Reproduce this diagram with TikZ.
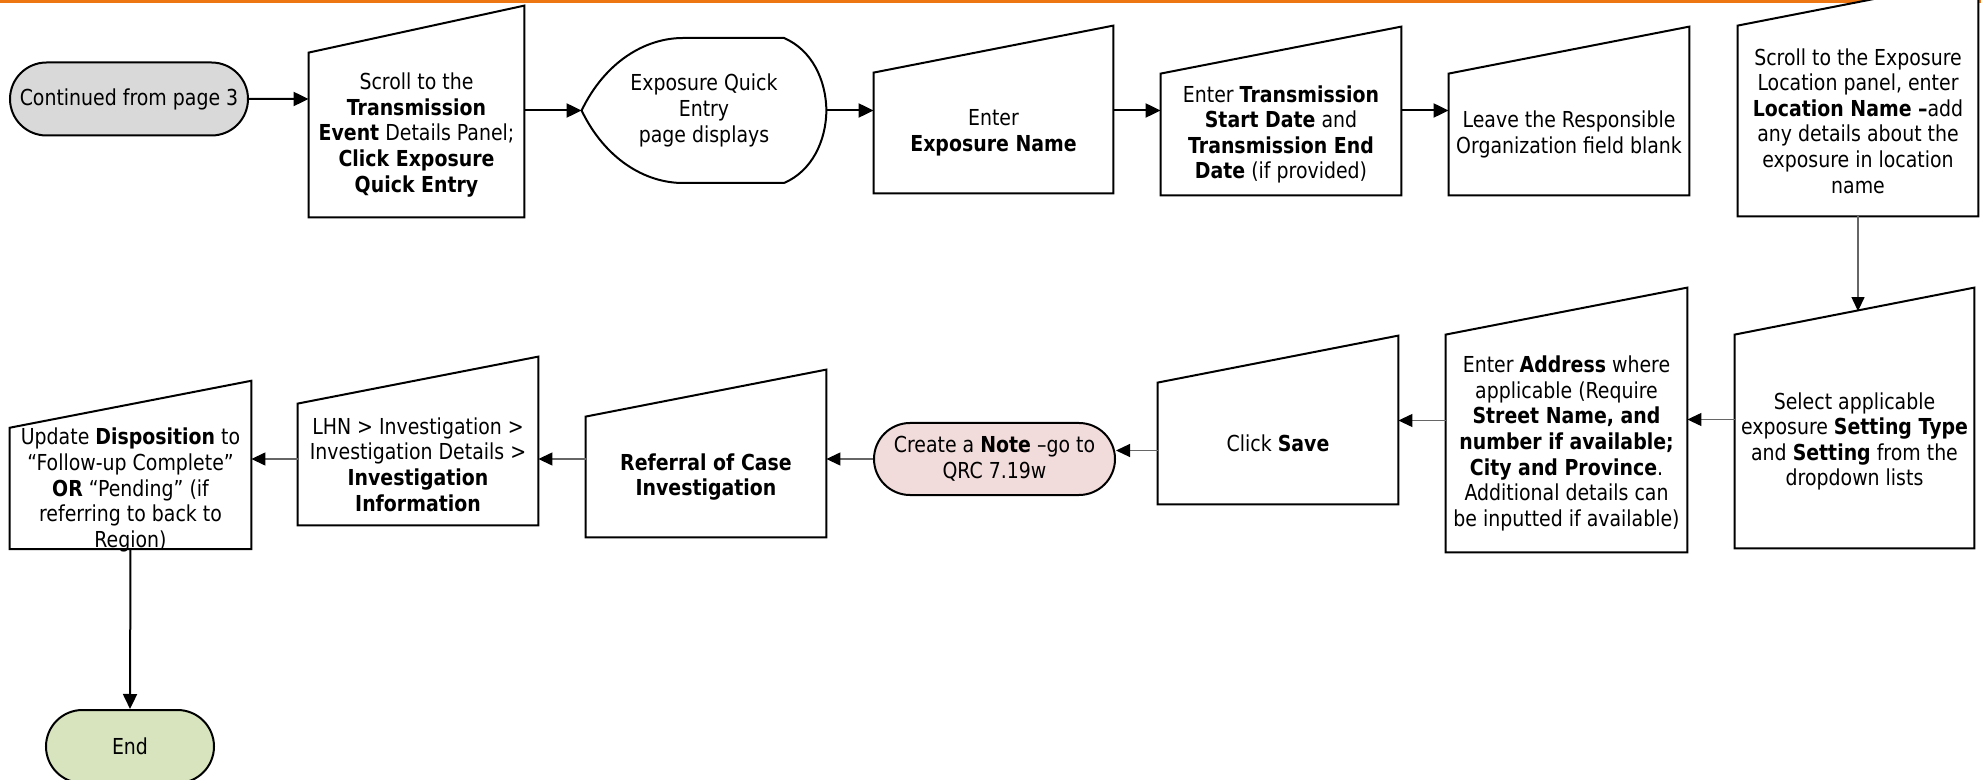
\documentclass[tikz,border=0pt]{standalone}
\usepackage{fontspec}
\setmainfont{DejaVu Sans}[FakeStretch=0.86]
\usepackage{tikz}
\usetikzlibrary{shapes.misc,% rounded rectangle for start/end
arrows.meta,%               filled triangle tips
backgrounds}
\definecolor{headorange}{RGB}{238,118,18}
\definecolor{startgray}{RGB}{217,217,217}
\definecolor{notepink}{RGB}{242,220,219}
\definecolor{endgreen}{RGB}{215,228,189}
\tikzset{every node/.style={font=\fontsize{11}{12.8}\selectfont},
  stepbox/.style={inner sep=0pt, align=center},
  terminal/.style={rounded rectangle, draw, line width=1pt, inner sep=0pt, align=center},
  outline/.style={draw, line width=1pt, fill=white},
  flow/.style={line width=1pt, -{Triangle[length=7.5pt,width=7pt]}},
  thinflow/.style={line width=0.6pt, draw=black!60, -{Triangle[length=7pt,width=6.5pt,color=black]}}}

\begin{document}
\begin{tikzpicture}[x=0.5pt,y=-0.5pt]
  \useasboundingbox (0,0) rectangle (1981,780);
  % top row
  \node[terminal, fill=startgray, minimum width=119pt, minimum height=36.5pt] (start) at (129,99) {Continued from page 3};
  \node[stepbox, minimum width=107.5pt, minimum height=82pt] (scrollev) at (416.5,135)
     {Scroll to the\\ \textbf{Transmission}\\ \textbf{Event} Details Panel;\\ \textbf{Click Exposure}\\ \textbf{Quick Entry}};
  \node[stepbox, minimum width=122pt, minimum height=72.5pt] (qe) at (704,110.5)
     {Exposure Quick\\ Entry\\ page displays};
  \node[stepbox, minimum width=119.5pt, minimum height=60pt] (expname) at (993.5,133)
     {Enter\\ \textbf{Exposure Name}};
  \node[stepbox, minimum width=120pt, minimum height=60.5pt] (dates) at (1281,134.5)
     {Enter \textbf{Transmission}\\ \textbf{Start Date} and\\ \textbf{Transmission End}\\ \textbf{Date} (if provided)};
  \node[stepbox, minimum width=120pt, minimum height=60.5pt] (resporg) at (1569,134.5)
     {Leave the Responsible\\ Organization field blank};
  \node[stepbox, minimum width=120pt, minimum height=95pt] (locname) at (1858,121)
     {Scroll to the Exposure\\ Location panel, enter\\ \textbf{Location Name –}add\\ any details about the\\ exposure in location\\ name};
  % bottom row
  \node[stepbox, minimum width=119.5pt, minimum height=106.5pt] (setting) at (1854.5,441.5)
     {Select applicable\\ exposure \textbf{Setting Type}\\ and \textbf{Setting} from the\\ dropdown lists};
  \node[stepbox, minimum width=120.5pt, minimum height=108.5pt] (address) at (1566.5,443.5)
     {Enter \textbf{Address} where\\ applicable (Require\\ \textbf{Street Name, and}\\ \textbf{number if available;}\\ \textbf{City and Province}.\\ Additional details can\\ be inputted if available)};
  \node[stepbox, minimum width=120pt, minimum height=60.5pt] (save) at (1278,443.5) {Click \textbf{Save}};
  \node[terminal, fill=notepink, minimum width=120.5pt, minimum height=36pt] (note) at (994.5,459)
     {Create a \textbf{Note} –go to\\ QRC 7.19w};
  \node[stepbox, minimum width=120pt, minimum height=60pt] (referral) at (706,477)
     {\textbf{Referral of Case}\\ \textbf{Investigation}};
  \node[stepbox, minimum width=120pt, minimum height=60.5pt] (lhn) at (418,464.5)
     {LHN > Investigation >\\ Investigation Details >\\ \textbf{Investigation}\\ \textbf{Information}};
  \node[stepbox, minimum width=120.5pt, minimum height=60.5pt] (update) at (130.5,490)
     {Update \textbf{Disposition} to\\ “Follow-up Complete”\\ \textbf{OR} “Pending” (if\\ referring to back to\\ Region)};
  \node[terminal, fill=endgreen, minimum width=84pt, minimum height=36.5pt] (end) at (130,746.5) {End};

  % outlines behind the text
  \begin{scope}[on background layer]
    \draw[headorange, line width=1.5pt] (0,1.5) -- (1981,1.5);
    \draw[outline] (qe.west) .. controls (605,62) and (645,38) .. (683,38) -- (784,38)
       .. controls (812,50) and (826,80) .. (qe.east) .. controls (826,141) and (812,171) .. (784,183)
       -- (683,183) .. controls (645,183) and (605,159) .. (qe.west) -- cycle;
    \foreach \n in {scrollev,expname,dates,resporg,locname,setting,address,save,referral,lhn}
      \draw[outline] (\n.south west) -- (\n.north west) -- ([yshift=23.5pt]\n.north east)
         -- (\n.south east) -- cycle;
    \draw[outline] ([yshift=1.5pt]update.south west) -- (update.north west)
       -- ([yshift=23.5pt]update.north east) -- ([yshift=1.5pt]update.south east) -- cycle;
  \end{scope}

  % connectors
  \draw[flow] (start) -- (scrollev.west |- start);
  \draw[flow] (scrollev.east |- qe.west) -- (qe.west);
  \draw[flow] (qe.east) -- (expname.west |- qe.east);
  \draw[flow] (expname.east |- qe.east) -- (dates.west |- qe.east);
  \draw[flow] (dates.east |- qe.east) -- (resporg.west |- qe.east);
  \draw[thinflow] (locname.south) -- ([yshift=11.75pt]locname.south |- setting.north);
  \draw[thinflow] ([yshift=11pt]setting.west) -- ([yshift=11pt]setting.west -| address.east);
  \draw[thinflow] ([yshift=11.5pt]address.west) -- ([yshift=11.5pt]address.west -| save.east);
  \draw[thinflow] ([yshift=-3.5pt]save.west) -- ([yshift=-3.5pt]save.west -| note.east);
  \draw[thinflow] (note.west) -- (note.west -| referral.east);
  \draw[thinflow] (note.west -| referral.west) -- (note.west -| lhn.east);
  \draw[thinflow] ([yshift=2.75pt]lhn.west) -- ([yshift=2.75pt]lhn.west -| update.east);
  \draw[flow] ([yshift=1.5pt]update.south) -- (end.north);
\end{tikzpicture}
\end{document}
